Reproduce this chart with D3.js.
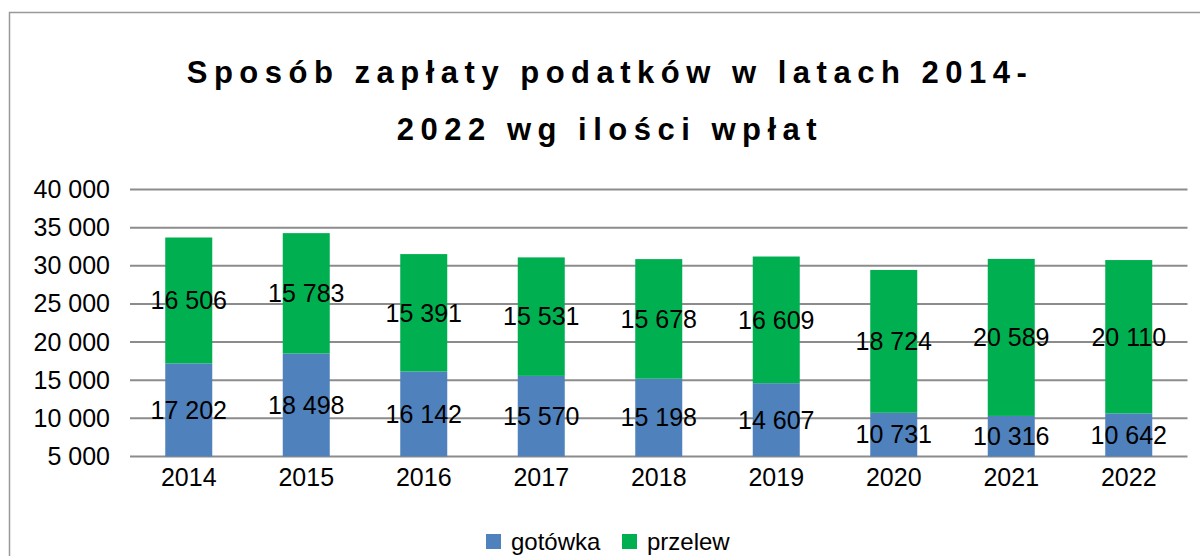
<!DOCTYPE html>
<html>
<head>
<meta charset="utf-8">
<script src="https://cdn.jsdelivr.net/npm/d3@7"></script>
<style>
  body { margin: 0; background: #fff; }
  svg { font-family: "Liberation Sans", Arial, sans-serif; }
  .grid line { stroke: #8c8c8c; stroke-width: 2; }
  .axis text { font-size: 25px; fill: #000; }
  .axis path, .axis line { display: none; }
  .label { font-size: 25px; fill: #000; }
  .title { font-size: 31px; font-weight: bold; letter-spacing: 6.5px; }
</style>
</head>
<body>
<svg id="chart" width="1200" height="556"></svg>
<script>
// data
var years = ["2014", "2015", "2016", "2017", "2018", "2019", "2020", "2021", "2022"];
var gotowka = [17202, 18498, 16142, 15570, 15198, 14607, 10731, 10316, 10642];
var przelew = [16506, 15783, 15391, 15531, 15678, 16609, 18724, 20589, 20110];
var seriesNames = ["gotówka", "przelew"];
var seriesColors = ["#4f81bd", "#00b050"];
var yTicks = [5000, 10000, 15000, 20000, 25000, 30000, 35000, 40000];
var titleLines = ["Sposób zapłaty podatków w latach 2014-", "2022 wg ilości wpłat"];

var svg = d3.select("#chart");

// outer chart border
svg.append("rect")
    .attr("x", 9.5).attr("y", 12.5)
    .attr("width", 1300).attr("height", 700)
    .attr("fill", "none").attr("stroke", "#999").attr("stroke-width", 1.5);

// title
svg.append("text")
    .attr("class", "title")
    .attr("text-anchor", "middle")
    .selectAll("tspan")
    .data(titleLines)
    .enter().append("tspan")
    .attr("x", 610)
    .attr("y", function(d, i) { return 83 + i * 57; })
    .text(function(d) { return d; });

var margin = {left: 130, right: 1187.5, top: 189.5, bottom: 456.5};

var x = d3.scaleBand().domain(years).range([margin.left, margin.right]).paddingInner(0.6).paddingOuter(0.3);
var y = d3.scaleLinear().domain([5000, 40000]).range([margin.bottom, margin.top]);

var pl = d3.formatLocale({decimal: ",", thousands: " ", grouping: [3], currency: ["", " zł"]});
var fmt = pl.format(",d");

// gridlines
svg.append("g")
    .attr("class", "grid")
    .selectAll("line")
    .data(yTicks)
    .enter().append("line")
    .attr("x1", margin.left).attr("x2", margin.right)
    .attr("y1", function(d) { return y(d); })
    .attr("y2", function(d) { return y(d); });

// y axis
svg.append("g")
    .attr("class", "axis")
    .attr("transform", "translate(" + (margin.left - 8) + ",0)")
    .call(d3.axisLeft(y).tickValues(yTicks).tickFormat(fmt).tickSize(0).tickPadding(12));

// x axis
svg.append("g")
    .attr("class", "axis")
    .attr("transform", "translate(0," + margin.bottom + ")")
    .call(d3.axisBottom(x).tickSize(0).tickPadding(12));

// stacked data
var rows = years.map(function(yr, i) {
  return {year: yr, "gotówka": gotowka[i], "przelew": przelew[i]};
});
var stacked = d3.stack().keys(seriesNames)(rows);

var layer = svg.selectAll(".layer")
    .data(stacked)
    .enter().append("g")
    .attr("class", "layer")
    .attr("fill", function(d, i) { return seriesColors[i]; });

function lo(d) { return Math.max(d[0], y.domain()[0]); }

layer.selectAll("rect")
    .data(function(d) { return d; })
    .enter().append("rect")
    .attr("x", function(d) { return x(d.data.year); })
    .attr("width", x.bandwidth())
    .attr("y", function(d) { return y(d[1]); })
    .attr("height", function(d) { return y(lo(d)) - y(d[1]); });

// value labels, centered in the visible part of each segment
stacked.forEach(function(s) {
  svg.append("g").selectAll("text")
      .data(s)
      .enter().append("text")
      .attr("class", "label")
      .attr("text-anchor", "middle")
      .attr("dy", "0.35em")
      .attr("x", function(d) { return x(d.data.year) + x.bandwidth() / 2; })
      .attr("y", function(d) { return (y(lo(d)) + y(d[1])) / 2; })
      .text(function(d) { return fmt(d[1] - d[0]); });
});

// legend
var legend = svg.append("g").attr("transform", "translate(486,534)");
var lx = [0, 136];
seriesNames.forEach(function(name, i) {
  var g = legend.append("g").attr("transform", "translate(" + lx[i] + ",0)");
  g.append("rect").attr("width", 15).attr("height", 15).attr("fill", seriesColors[i]);
  g.append("text").attr("x", 25).attr("y", 8).attr("dy", "0.35em")
      .style("font-size", "24px").text(name);
});
</script>
</body>
</html>
